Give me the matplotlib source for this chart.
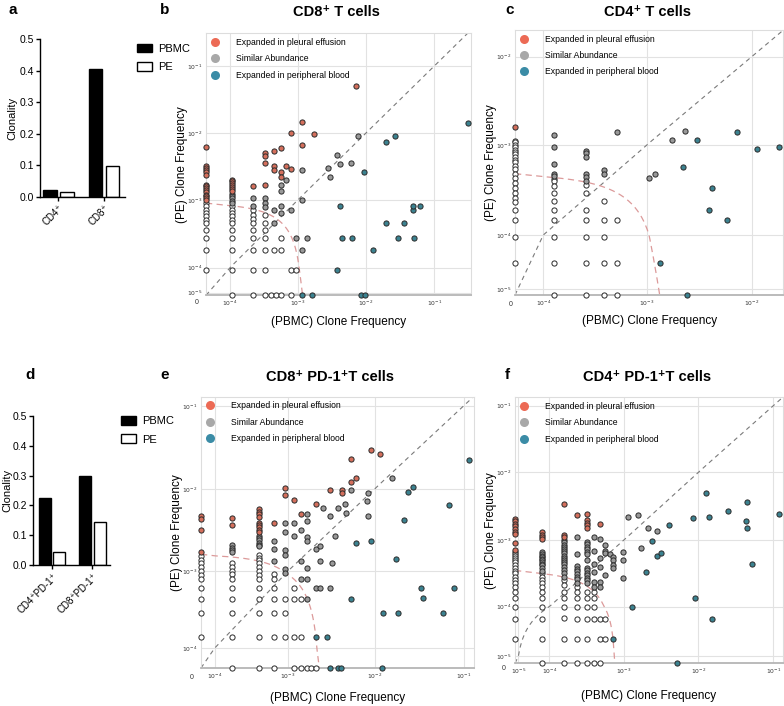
import numpy as np
import matplotlib
matplotlib.use("Agg")
import matplotlib.pyplot as plt
from matplotlib.lines import Line2D
from matplotlib.patches import Patch

plt.rcParams['font.family'] = ['Liberation Sans', 'DejaVu Sans']
plt.rcParams['mathtext.fontset'] = 'dejavusans'


def col(x, ys):
    # one column of clones sharing the same PBMC frequency
    return [(x, y) for y in ys]


# ---------------- bar data (clonality)
a_groups = ['CD4⁺', 'CD8⁺']
a_pbmc = [0.022, 0.405]
a_pe = [0.017, 0.098]

d_groups = ['CD4⁺PD-1⁺', 'CD8⁺PD-1⁺']
d_pbmc = [0.225, 0.300]
d_pe = [0.045, 0.143]

# ---------------- scatter data: (PBMC freq, PE freq)
# b: CD8+ T cells
b_pe = (col(0, [6.3e-3, 3.2e-3, 3.0e-3, 2.8e-3, 2.6e-3, 2.4e-3, 1.7e-3, 1.6e-3, 1.5e-3,
                1.4e-3, 1.3e-3, 1.2e-3, 1.13e-3, 1.06e-3, 1.0e-3])
        + col(1.06e-4, [2.0e-3, 1.9e-3, 1.78e-3, 1.66e-3, 1.55e-3, 1.45e-3, 1.35e-3])
        + col(2.16e-4, [1.6e-3]) + col(3.3e-4, [5.0e-3, 4.6e-3, 3.6e-3, 1.7e-3])
        + col(4.5e-4, [5.4e-3, 3.2e-3, 2.8e-3]) + col(5.7e-4, [6.0e-3, 2.6e-3, 2.2e-3])
        + col(6.8e-4, [3.2e-3]) + col(8.0e-4, [1.0e-2, 2.9e-3])
        + col(1.14e-3, [1.46e-2, 6.6e-3]) + col(1.74e-3, [9.9e-3]) + [(7.3e-3, 5.1e-2)])
b_sim = (col(1.06e-4, [1.24e-3, 1.15e-3, 1.06e-3, 9.8e-4, 8.9e-4]) + col(2.16e-4, [1.08e-3, 8.1e-4])
         + col(3.3e-4, [1.08e-3, 8.9e-4, 8.0e-4]) + col(4.5e-4, [7.1e-4, 4.5e-4])
         + col(5.7e-4, [1.7e-3, 1.37e-3, 8.1e-4, 6.5e-4]) + col(6.8e-4, [2.0e-3])
         + col(8.0e-4, [7.2e-4]) + col(9.4e-4, [2.7e-4]) + col(1.14e-3, [2.8e-3, 1.0e-3, 1.8e-4])
         + col(1.38e-3, [2.7e-4])
         + [(2.8e-3, 3.0e-3), (3.0e-3, 2.2e-3), (3.8e-3, 4.8e-3), (4.2e-3, 3.5e-3),
            (6.1e-3, 3.6e-3), (7.6e-3, 9.2e-3)])
b_low = (col(0, [9.0e-4, 8.1e-4, 7.2e-4, 6.5e-4, 5.8e-4, 5.1e-4, 4.5e-4, 3.65e-4, 2.7e-4, 1.8e-4, 9e-5])
         + col(1.06e-4, [8.1e-4, 7.2e-4, 6.5e-4, 5.8e-4, 5.1e-4, 4.5e-4, 3.65e-4, 2.7e-4, 1.8e-4, 9e-5, 0])
         + col(2.16e-4, [7.1e-4, 6.1e-4, 5.3e-4, 4.5e-4, 3.65e-4, 2.7e-4, 1.8e-4, 9e-5, 0])
         + col(3.3e-4, [6.1e-4, 4.5e-4, 3.65e-4, 2.7e-4, 1.8e-4, 9e-5, 0])
         + col(4.1e-4, [0]) + col(4.5e-4, [1.8e-4]) + col(4.8e-4, [0])
         + col(5.7e-4, [2.7e-4, 1.8e-4, 0]) + col(8.0e-4, [9e-5, 0]) + col(9.4e-4, [9e-5]))
b_pb = [(0.307, 1.4e-2), (2.7e-2, 9.1e-3), (2.0e-2, 7.3e-3), (9.5e-3, 2.6e-3), (4.2e-3, 8.1e-4),
        (4.9e-2, 7.2e-4), (4.9e-2, 8.1e-4), (6.2e-2, 8.1e-4), (2.0e-2, 4.5e-4), (3.6e-2, 4.5e-4),
        (4.5e-3, 2.7e-4), (6.2e-3, 2.7e-4), (3.0e-2, 2.7e-4), (5.1e-2, 2.7e-4), (1.26e-2, 1.8e-4),
        (3.8e-3, 9e-5), (1.14e-3, 0), (1.62e-3, 0), (8.4e-3, 0), (9.9e-3, 0)]

# c: CD4+ T cells
c_pe = [(0, 1.58e-3)]
c_sim = (col(1.28e-4, [1.29e-3, 9.6e-4, 6.2e-4, 4.8e-4, 4.5e-4])
         + col(2.57e-4, [8.6e-4, 8.1e-4, 7.3e-4, 4.8e-4, 4.4e-4, 4.0e-4])
         + col(3.9e-4, [5.3e-4, 4.8e-4]) + col(5.2e-4, [1.41e-3])
         + [(1.06e-3, 4.3e-4), (1.21e-3, 4.8e-4), (1.74e-3, 1.15e-3), (2.3e-3, 1.45e-3)])
c_low = (col(0, [1.12e-3, 1.07e-3, 1.0e-3, 9.5e-4, 8.9e-4, 8.4e-4, 7.9e-4, 7.4e-4, 6.9e-4, 6.4e-4,
                 5.9e-4, 5.4e-4, 4.8e-4, 4.3e-4, 3.8e-4, 3.3e-4, 2.9e-4, 2.6e-4, 2.3e-4, 1.9e-4,
                 1.45e-4, 9.7e-5, 5.3e-5])
         + col(1.28e-4, [4.2e-4, 4.0e-4, 3.5e-4, 2.9e-4, 2.4e-4, 1.9e-4, 1.45e-4, 9.7e-5, 5.3e-5, 0])
         + col(2.57e-4, [3.6e-4, 2.9e-4, 1.9e-4, 1.45e-4, 9.7e-5, 5.3e-5, 0])
         + col(3.9e-4, [2.4e-4, 1.45e-4, 9.7e-5, 5.3e-5, 0]) + col(5.2e-4, [1.45e-4, 5.3e-5, 0]))
c_pb = [(3.0e-3, 1.15e-3), (7.2e-3, 1.41e-3), (1.13e-2, 9.1e-4), (1.8e-2, 9.6e-4), (2.2e-3, 5.7e-4),
        (4.2e-3, 3.3e-4), (3.9e-3, 1.9e-4), (5.8e-3, 1.45e-4), (1.35e-3, 5.3e-5), (2.4e-3, 0)]

# e: CD8+ PD-1+ T cells
e_pe = (col(0, [4.7e-3, 4.27e-3, 3.16e-3, 1.72e-3]) + col(1.75e-4, [4.4e-3, 3.6e-3])
        + col(4.0e-4, [5.7e-3, 5.3e-3, 4.9e-3, 4.5e-3, 3.8e-3, 3.6e-3, 3.4e-3, 3.16e-3, 2.97e-3])
        + col(6.5e-4, [3.9e-3]) + col(9.1e-4, [1.02e-2, 8.4e-3]) + col(1.16e-3, [7.4e-3])
        + col(1.4e-3, [5.0e-3]) + col(2.1e-3, [6.5e-3]) + col(3.06e-3, [9.8e-3])
        + col(4.2e-3, [9.6e-3, 9.0e-3]) + col(5.4e-3, [1.22e-2, 2.28e-2])
        + [(6.1e-3, 1.35e-2), (9.0e-3, 2.95e-2), (1.16e-2, 2.64e-2)])
e_sim = (col(1.75e-4, [2.07e-3, 1.92e-3, 1.82e-3, 1.7e-3])
         + col(4.0e-4, [2.7e-3, 2.5e-3, 2.37e-3, 2.2e-3, 2.1e-3, 2.0e-3])
         + col(6.5e-4, [2.3e-3, 1.85e-3, 1.33e-3])
         + col(9.1e-4, [3.8e-3, 2.97e-3, 1.78e-3, 1.55e-3, 1.07e-3, 9.3e-4])
         + col(1.16e-3, [3.8e-3, 2.66e-3]) + col(1.4e-3, [3.16e-3, 1.33e-3, 7.8e-4])
         + col(1.64e-3, [5.0e-3, 4.07e-3, 2.6e-3, 2.3e-3, 1.1e-3, 7.8e-4, 4.4e-4])
         + col(2.1e-3, [1.85e-3, 6.1e-4]) + col(2.34e-3, [2.0e-3, 1.33e-3, 6.1e-4])
         + col(3.06e-3, [4.7e-3, 6.1e-4]) + col(8.5e-3, [9.0e-3, 4.7e-3])
         + [(2.56e-3, 5.9e-3), (3.25e-3, 1.24e-3), (3.5e-3, 2.66e-3), (3.75e-3, 5.8e-3),
            (4.6e-3, 6.6e-3), (4.7e-3, 5.1e-3), (5.4e-3, 9.6e-3), (8.2e-3, 7.2e-3), (1.58e-2, 1.36e-2)])
e_low = (col(0, [1.52e-3, 1.36e-3, 1.24e-3, 1.11e-3, 1.0e-3, 8.9e-4, 7.8e-4, 6.1e-4, 4.4e-4, 2.9e-4, 1.39e-4])
         + col(1.75e-4, [1.24e-3, 1.11e-3, 1.0e-3, 9.1e-4, 7.8e-4, 6.1e-4, 4.4e-4, 2.9e-4, 1.39e-4, 0])
         + col(4.0e-4, [1.55e-3, 1.45e-3, 1.36e-3, 1.24e-3, 1.11e-3, 1.0e-3, 8.9e-4, 7.8e-4, 6.1e-4,
                        4.4e-4, 2.9e-4, 1.39e-4, 0])
         + col(6.5e-4, [9.1e-4, 7.8e-4, 6.1e-4, 4.4e-4, 2.9e-4, 1.39e-4, 0])
         + col(9.1e-4, [4.4e-4, 2.9e-4, 1.39e-4]) + col(1.16e-3, [6.1e-4, 4.4e-4, 1.39e-4, 0])
         + col(1.4e-3, [4.4e-4, 1.39e-4, 0]) + col(1.64e-3, [0]) + col(1.84e-3, [0]) + col(2.09e-3, [0]))
e_pb = [(2.1e-3, 1.39e-4), (2.8e-3, 1.39e-4), (3.06e-3, 0), (3.75e-3, 0), (4.1e-3, 0), (1.2e-2, 0),
        (6.1e-3, 2.2e-3), (9.0e-3, 2.34e-3), (5.4e-3, 4.4e-4), (2.36e-2, 9.3e-3), (2.7e-2, 1.07e-2),
        (0.116, 2.26e-2), (6.9e-2, 6.3e-3), (2.16e-2, 4.2e-3), (1.74e-2, 1.4e-3), (3.3e-2, 6.0e-4),
        (7.9e-2, 6.0e-4), (3.5e-2, 4.47e-4), (1.26e-2, 2.9e-4), (1.83e-2, 2.9e-4), (5.9e-2, 2.9e-4)]

# f: CD4+ PD-1+ T cells
f_pe = (col(0, [2.05e-3, 1.9e-3, 1.75e-3, 1.6e-3, 1.45e-3, 1.33e-3, 1.22e-3, 8.9e-4, 7.1e-4])
        + col(7.8e-5, [1.3e-3, 1.2e-3, 1.12e-3, 1.03e-3]) + col(1.59e-4, [3.37e-3, 1.2e-3, 1.12e-3])
        + col(2.35e-4, [2.34e-3]) + col(3.2e-4, [2.45e-3, 1.97e-3, 1.8e-3, 1.67e-3, 1.52e-3])
        + col(4.77e-4, [1.7e-3]))
f_sim = (col(7.8e-5, [6.7e-4, 6.2e-4, 5.8e-4, 5.5e-4, 5.2e-4, 5.0e-4, 4.6e-4, 4.4e-4, 4.17e-4, 3.8e-4, 3.46e-4])
         + col(1.59e-4, [1.0e-3, 9.2e-4, 8.5e-4, 7.9e-4, 7.3e-4, 6.8e-4, 6.3e-4, 5.8e-4, 5.4e-4, 5.0e-4,
                         4.6e-4, 4.3e-4, 4.0e-4, 3.55e-4, 3.16e-4, 2.8e-4])
         + col(2.35e-4, [1.12e-3, 6.1e-4, 4.1e-4, 3.7e-4, 3.4e-4, 3.1e-4, 2.8e-4, 2.6e-4, 2.3e-4])
         + col(3.2e-4, [9.4e-4, 8.7e-4, 7.9e-4, 7.25e-4, 6.7e-4, 6.2e-4, 5.0e-4, 3.85e-4, 3.55e-4,
                        3.24e-4, 3.0e-4, 2.7e-4, 2.5e-4, 2.3e-4])
         + col(3.96e-4, [1.12e-3, 6.9e-4, 4.3e-4, 3.36e-4, 2.35e-4, 2.0e-4])
         + col(4.77e-4, [1.03e-3, 5.4e-4, 4.0e-4, 2.35e-4, 2.0e-4])
         + col(5.55e-4, [8.5e-4, 6.9e-4, 6.3e-4, 3.0e-4]) + col(6.5e-4, [6.2e-4])
         + col(7.2e-4, [5.5e-4, 5.0e-4, 4.2e-4, 3.8e-4]) + col(9.6e-4, [6.5e-4, 5.0e-4, 2.7e-4])
         + [(1.12e-3, 2.16e-3), (1.53e-3, 2.34e-3), (2.08e-3, 1.52e-3), (2.8e-3, 1.36e-3), (1.68e-3, 7.5e-4)])
f_low = (col(0, [6.5e-4, 6.1e-4, 5.7e-4, 5.3e-4, 5.0e-4, 4.6e-4, 4.2e-4, 3.8e-4, 3.46e-4, 3.16e-4,
                 2.8e-4, 2.5e-4, 2.24e-4, 2.0e-4, 1.68e-4, 1.34e-4, 1.0e-4, 5.7e-5, 2.2e-5])
         + col(7.8e-5, [3.16e-4, 2.8e-4, 2.5e-4, 2.24e-4, 2.0e-4, 1.68e-4, 1.34e-4, 1.0e-4, 5.7e-5, 2.2e-5, 0])
         + col(1.59e-4, [2.5e-4, 2.1e-4, 1.68e-4, 1.34e-4, 1.0e-4, 5.8e-5, 2.2e-5, 0])
         + col(2.35e-4, [2.0e-4, 1.68e-4, 1.34e-4, 1.0e-4, 5.7e-5, 2.2e-5, 0])
         + col(3.2e-4, [1.68e-4, 1.34e-4, 1.0e-4, 5.7e-5, 2.2e-5, 0])
         + col(3.96e-4, [1.68e-4, 1.34e-4, 1.0e-4, 5.7e-5, 0])
         + col(4.77e-4, [5.7e-5, 2.2e-5, 0]) + col(5.55e-4, [5.7e-5, 2.2e-5]))
f_pb = [(4.07e-3, 1.67e-3), (8.4e-3, 2.1e-3), (1.27e-2, 4.9e-3), (1.38e-2, 2.2e-3), (2.47e-2, 2.7e-3),
        (4.46e-2, 3.7e-3), (4.3e-2, 1.93e-3), (4.5e-2, 1.52e-3), (5.2e-2, 4.4e-4), (0.118, 2.4e-3),
        (9.0e-3, 1.34e-4), (1.52e-2, 5.7e-5), (5.1e-3, 0), (7.2e-4, 2.2e-5), (1.28e-3, 1.0e-4),
        (2.0e-3, 3.3e-4), (2.36e-3, 9.6e-4), (2.8e-3, 5.7e-4), (3.15e-3, 6.3e-4)]

# detection threshold line: PBMC intercept, PE intercept
b_thresh = (1.18e-3, 9.0e-4)
c_thresh = (1.33e-3, 4.8e-4)
e_thresh = (2.3e-3, 1.6e-3)
f_thresh = (7.6e-4, 3.5e-4)

legend_labels = ['Expanded in pleural effusion', 'Similar Abundance', 'Expanded in peripheral blood']

PE_C = '#d46f5c'
SIM_C = '#999999'
PB_C = '#3b8290'
LEG_C = ['#ec6a55', '#a8a8a8', '#3b8ca6']

W, H = 784, 706
fig = plt.figure(figsize=(W / 100, H / 100), dpi=100)


def px_axes(left, top, right, bottom):
    return fig.add_axes([left / W, 1 - bottom / H, (right - left) / W, (bottom - top) / H])


def anchor_scale(vals, pos):
    # log between tick anchors, linear between 0 and the first anchor
    vals = np.asarray(vals, float)
    pos = np.asarray(pos, float)
    lv = np.log10(vals)
    s_hi = (pos[-1] - pos[-2]) / (lv[-1] - lv[-2])

    def fwd(v):
        v = np.asarray(v, float)
        low = ~(v >= vals[0])
        lg = np.log10(np.where(low, vals[0], v))
        p = np.interp(lg, lv, pos)
        p = np.where(lg > lv[-1], pos[-1] + (lg - lv[-1]) * s_hi, p)
        return np.where(low, v / vals[0] * pos[0], p)

    def inv(p):
        p = np.asarray(p, float)
        lg = np.interp(p, pos, lv)
        lg = np.where(p > pos[-1], lv[-1] + (p - pos[-1]) / s_hi, lg)
        return np.where(p < pos[0], p / pos[0] * vals[0], 10.0 ** lg)

    return fwd, inv


def draw_bars(ax, groups, pbmc, pe, offset, width, xlim, leg_xy, ylab_x):
    x = np.arange(len(groups))
    ax.bar(x - offset, pbmc, width, color='black', edgecolor='black', linewidth=1.0)
    ax.bar(x + offset, pe, width, color='white', edgecolor='black', linewidth=1.0)
    ax.set_xlim(*xlim)
    ax.set_ylim(0, 0.5)
    ax.set_yticks(np.arange(0, 0.51, 0.1))
    ax.set_yticklabels([f'{t:.1f}' for t in np.arange(0, 0.51, 0.1)], fontsize=7.5)
    ax.set_xticks(x)
    ax.set_xticklabels(groups, rotation=45, ha='right', rotation_mode='anchor', fontsize=7)
    ax.spines[['top', 'right']].set_visible(False)
    for s in ['left', 'bottom']:
        ax.spines[s].set_linewidth(1.0)
    ax.tick_params(length=3, width=1.0, pad=1.5)
    ax.set_ylabel('Clonality', fontsize=8)
    ax.yaxis.set_label_coords(ylab_x, 0.5)
    handles = [Patch(facecolor='black', edgecolor='black'),
               Patch(facecolor='white', edgecolor='black', linewidth=1.0)]
    ax.legend(handles, ['PBMC', 'PE'], loc='upper left', bbox_to_anchor=leg_xy, frameon=False,
              fontsize=8, handlelength=1.35, handleheight=0.8, handletextpad=0.6,
              labelspacing=0.75, borderpad=0, borderaxespad=0)


def tick_text(t):
    return '$10^{%d}$' % int(round(np.log10(t)))


def draw_scatter(ax, pe, sim, low, pb, xdef, ydef, xticks, yticks, thresh,
                 ylab_dx, xlab_dy, zero_off):
    (xv, xp, xlen), (yv, yp, ylen) = xdef, ydef
    xf, xi = anchor_scale(xv, xp)
    yf, yi = anchor_scale(yv, yp)
    ax.set_xscale('function', functions=(xf, xi))
    ax.set_yscale('function', functions=(yf, yi))
    ax.set_xlim(0, float(xi(xlen)))
    ax.set_ylim(0, float(yi(ylen)))

    ax.set_xticks(xticks)
    ax.set_xticklabels([tick_text(t) for t in xticks], fontsize=4.3, color='#333333')
    ax.set_yticks(yticks)
    ax.set_yticklabels([tick_text(t) for t in yticks], fontsize=4.3, color='#333333')
    ax.tick_params(length=0, pad=2.5)
    ax.grid(True, color='#e2e2e2', linewidth=0.8)
    ax.set_axisbelow(True)
    for s in ax.spines.values():
        s.set_color('#dddddd')
        s.set_linewidth(0.8)
    ax.spines['bottom'].set_color('#b5b5b5')
    ax.spines['bottom'].set_linewidth(1.3)

    # y = x reference
    d = np.concatenate([np.linspace(0, 1e-5, 30), np.geomspace(1e-5, 1, 400)])
    ax.plot(d, d, ls=(0, (4, 3.5)), color='#7a7a7a', lw=0.8, zorder=2)

    # threshold line  x/a + y/b = 1
    a, b = thresh
    t = np.unique(np.concatenate([[0, 1], np.geomspace(1e-4, 0.5, 200), 1 - np.geomspace(1e-4, 0.5, 200)]))
    ax.plot(a * t, b * (1 - t), ls=(0, (5, 3.5)), color='#dc9a9a', lw=0.9, zorder=2)

    for pts, fc, z in [(low, 'white', 3), (sim, SIM_C, 4), (pe, PE_C, 5), (pb, PB_C, 5)]:
        xs, ys = zip(*pts)
        ax.scatter(xs, ys, s=14, facecolor=fc, edgecolor='#2a2a2a', linewidths=0.7,
                   zorder=z, clip_on=False)

    handles = [Line2D([], [], marker='o', ls='', markersize=6.5, markerfacecolor=c,
                      markeredgecolor='none') for c in LEG_C]
    ax.legend(handles, legend_labels, loc='upper left', bbox_to_anchor=(0, 1), frameon=False,
              fontsize=6.2, handlelength=1.0, handletextpad=1.9, borderaxespad=0.3,
              borderpad=0.25, labelspacing=0.85)

    ax.set_ylabel('(PE) Clone Frequency', fontsize=8.5)
    ax.yaxis.set_label_coords(-ylab_dx / xlen, 0.5)
    ax.set_xlabel('(PBMC) Clone Frequency', fontsize=8.5)
    ax.xaxis.set_label_coords(0.5, -xlab_dy / ylen)
    ax.annotate('0', xy=(0, 0), xycoords='axes fraction', xytext=zero_off,
                textcoords='offset points', ha='center', va='center', fontsize=5, color='#333333')


# ---------------- panels a, d
ax_a = px_axes(40, 39, 125, 197)
draw_bars(ax_a, a_groups, a_pbmc, a_pe, 0.185, 0.29, (-0.40, 1.45), (1.14, 0.97), -0.27)
ax_d = px_axes(33, 416, 110, 565)
draw_bars(ax_d, d_groups, d_pbmc, d_pe, 0.18, 0.3, (-0.48, 1.44), (1.14, 1.0), -0.27)

# ---------------- panels b, c, e, f
ax_b = px_axes(206, 33.3, 471, 295.3)
draw_scatter(ax_b, b_pe, b_sim, b_low, b_pb,
             ([1e-4, 1e-3, 1e-2, 1e-1], [24, 91.7, 159.7, 228.3], 265),
             ([1e-4, 1e-3, 1e-2, 1e-1], [27.7, 95.3, 162, 229.3], 262),
             [1e-4, 1e-3, 1e-2, 1e-1], [1e-5, 1e-4, 1e-3, 1e-2, 1e-1], b_thresh,
             18, 21, (-6.5, -5.5))

ax_c = px_axes(515, 30, 783.3, 295)
draw_scatter(ax_c, c_pe, c_sim, c_low, c_pb,
             ([1e-4, 1e-3, 1e-2], [28.3, 131.7, 236.7], 268.3),
             ([1e-4, 1e-3, 1e-2], [60, 150, 238.3], 265),
             [1e-4, 1e-3, 1e-2], [1e-5, 1e-4, 1e-3, 1e-2], c_thresh,
             18, 20, (-3, -7))

ax_e = px_axes(201, 396.7, 474, 668)
draw_scatter(ax_e, e_pe, e_sim, e_low, e_pb,
             ([1e-4, 1e-3, 1e-2, 1e-1], [13.5, 87, 173.5, 262.5], 273),
             ([1e-4, 1e-3, 1e-2, 1e-1], [19.7, 97, 179, 262], 271.3),
             [1e-4, 1e-3, 1e-2, 1e-1], [1e-4, 1e-3, 1e-2, 1e-1], e_thresh,
             18, 24, (-6.5, -6.5))

ax_f = px_axes(515, 397.3, 782.7, 663.3)
draw_scatter(ax_f, f_pe, f_sim, f_low, f_pb,
             ([1e-4, 1e-3, 1e-2, 1e-1], [34.3, 109, 183.3, 258.3], 267.7),
             ([1e-5, 1e-4, 1e-3, 1e-2, 1e-1], [7.3, 56.6, 123.3, 191, 257.6], 266),
             [1e-5, 1e-4, 1e-3, 1e-2, 1e-1], [1e-5, 1e-4, 1e-3, 1e-2, 1e-1], f_thresh,
             18, 27, (-8.5, -4))

# panel titles
for txt, (tx, ty) in [('CD8⁺ T cells', (336, 12)), ('CD4⁺ T cells', (648, 12)),
                      ('CD8⁺ PD-1⁺T cells', (330, 377)), ('CD4⁺ PD-1⁺T cells', (647, 377))]:
    fig.text(tx / W, 1 - ty / H, txt, ha='center', va='center', fontsize=10.5, fontweight='bold')

# panel letters
for lab, (lx, ly) in zip('abcdef', [(13, 10), (165, 10), (510, 10), (30, 375), (165, 375), (507, 375)]):
    fig.text(lx / W, 1 - ly / H, lab, ha='center', va='center', fontsize=11, fontweight='bold')

fig.savefig('out.png', dpi=100)
